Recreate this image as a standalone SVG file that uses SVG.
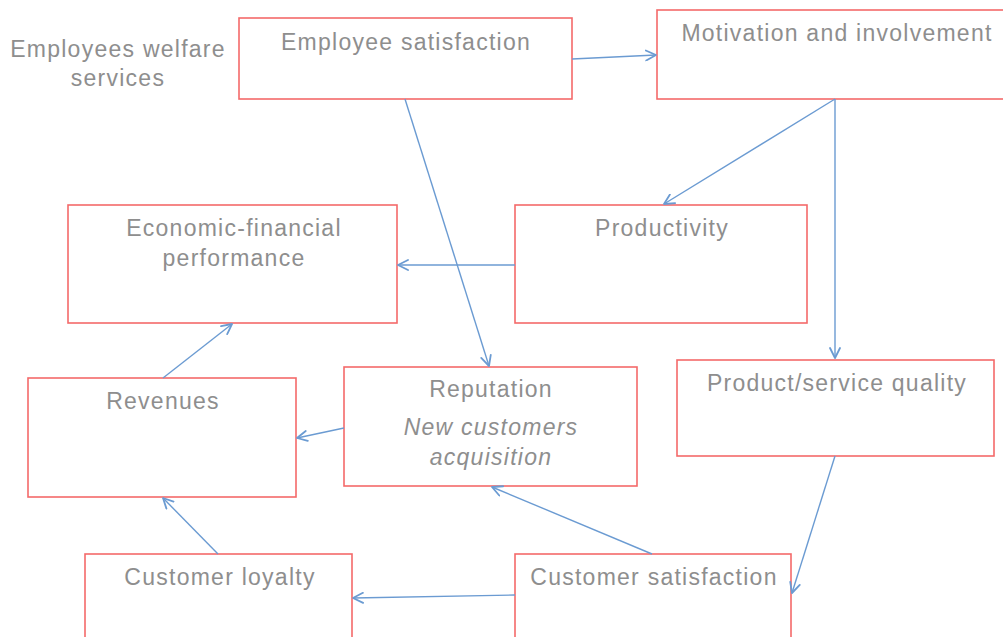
<svg xmlns="http://www.w3.org/2000/svg" width="1003" height="637" viewBox="0 0 1003 637">
<style>
.box{fill:#fff;stroke:#f46a6a;stroke-width:1.6}
.t{font-family:"Liberation Sans",Arial,sans-serif;font-size:23px;letter-spacing:1.25px;fill:#8e8e8e;text-anchor:middle}
.i{font-style:italic}
.c{stroke:#6b9bd2;stroke-width:1.4;fill:none;marker-end:url(#ah)}
</style>
<defs>
<marker id="ah" viewBox="0 0 12 12" refX="11" refY="6" markerWidth="12" markerHeight="12" markerUnits="userSpaceOnUse" orient="auto">
<path d="M1,1 L11,6 L1,11" fill="none" stroke="#6b9bd2" stroke-width="1.8" stroke-linecap="round" stroke-linejoin="round"/>
</marker>
</defs>
<rect width="1003" height="637" fill="#fff"/>
<g id="welfare"><text class="t" x="118" y="57">Employees welfare</text><text class="t" x="118" y="86">services</text></g>
<g id="emp-sat"><rect class="box" x="239" y="18" width="333" height="81"/><text class="t" x="406" y="50">Employee satisfaction</text></g>
<g id="motivation"><rect class="box" x="657" y="10" width="360" height="89"/><text class="t" x="837" y="41">Motivation and involvement</text></g>
<g id="productivity"><rect class="box" x="515" y="205" width="292" height="118"/><text class="t" x="662" y="236">Productivity</text></g>
<g id="economic"><rect class="box" x="68" y="205" width="329" height="118"/><text class="t" x="234" y="236">Economic-financial</text><text class="t" x="234" y="266">performance</text></g>
<g id="reputation"><rect class="box" x="344" y="367" width="293" height="119"/><text class="t" x="491" y="397">Reputation</text><text class="t i" x="491" y="435">New customers</text><text class="t i" x="491" y="465">acquisition</text></g>
<g id="revenues"><rect class="box" x="28" y="378" width="268" height="119"/><text class="t" x="163" y="409">Revenues</text></g>
<g id="quality"><rect class="box" x="677" y="360" width="317" height="96"/><text class="t" x="837" y="391">Product/service quality</text></g>
<g id="cust-sat"><rect class="box" x="515" y="554" width="276" height="90"/><text class="t" x="654" y="585">Customer satisfaction</text></g>
<g id="loyalty"><rect class="box" x="85" y="554" width="267" height="90"/><text class="t" x="220" y="585">Customer loyalty</text></g>
<g id="connectors">
<line class="c" x1="572" y1="59" x2="656" y2="55"/>
<line class="c" x1="405" y1="99" x2="489" y2="366"/>
<line class="c" x1="835" y1="99" x2="664" y2="204"/>
<line class="c" x1="835" y1="99" x2="835" y2="358"/>
<line class="c" x1="515" y1="265" x2="398" y2="265"/>
<line class="c" x1="163" y1="378" x2="232" y2="324"/>
<line class="c" x1="344" y1="428" x2="297" y2="438"/>
<line class="c" x1="652" y1="554" x2="492" y2="487"/>
<line class="c" x1="835" y1="456" x2="792" y2="593"/>
<line class="c" x1="515" y1="595" x2="353" y2="598"/>
<line class="c" x1="218" y1="554" x2="163" y2="498"/>
</g>
</svg>
